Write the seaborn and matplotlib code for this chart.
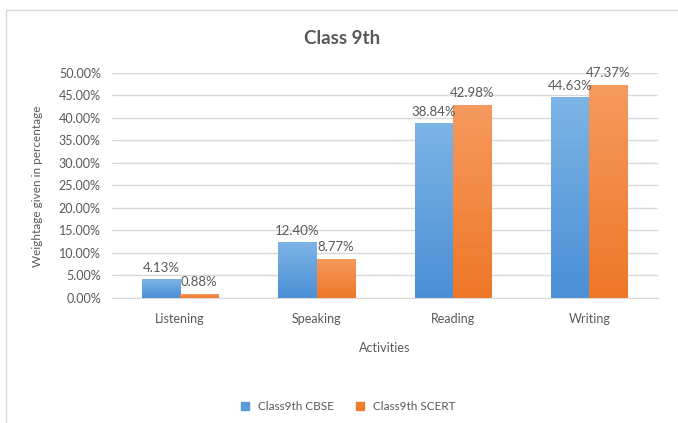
import matplotlib
matplotlib.use('Agg')
import matplotlib.pyplot as plt
from matplotlib.colors import LinearSegmentedColormap
from matplotlib.lines import Line2D
import numpy as np
import pandas as pd
import seaborn as sns

activities = ['Listening', 'Speaking', 'Reading', 'Writing']
series_names = ['Class9th CBSE', 'Class9th SCERT']
cbse_values = [4.13, 12.40, 38.84, 44.63]
scert_values = [0.88, 8.77, 42.98, 47.37]
y_ticks = [0, 5, 10, 15, 20, 25, 30, 35, 40, 45, 50]

base_colors = {'Class9th CBSE': '#5B9BD5', 'Class9th SCERT': '#ED7D31'}
grad_colors = {'Class9th CBSE': ('#4A8FD6', '#7DB4E6'),
               'Class9th SCERT': ('#EE7727', '#F69A5E')}
text_color = '#595959'

plot_df = pd.DataFrame({
    'activity': activities * 2,
    'series': [series_names[0]] * 4 + [series_names[1]] * 4,
    'value': cbse_values + scert_values,
})

sns.set_style('white')
plt.rcParams['font.family'] = ['Lato', 'DejaVu Sans']

fig = plt.figure(figsize=(6.78, 4.23), dpi=100)
ax = fig.add_axes([0.165, 0.2955, 0.805, 0.532])

sns.barplot(data=plot_df, x='activity', y='value', hue='series',
            order=activities, hue_order=series_names,
            palette=base_colors, width=0.56, gap=0, ax=ax,
            linewidth=0, errorbar=None)

ax.set_yticks(y_ticks)
ax.set_yticklabels([f'{t:.2f}%' for t in y_ticks])
ax.yaxis.grid(True, color='#D9D9D9', linewidth=1)
ax.set_axisbelow(True)
for side in ['top', 'right', 'left']:
    ax.spines[side].set_visible(False)
ax.spines['bottom'].set_color('#D9D9D9')
ax.tick_params(axis='both', length=0, labelsize=9, colors=text_color)
ax.tick_params(axis='y', pad=8)
ax.tick_params(axis='x', pad=11, labelsize=9)
ax.set_xlabel('')
ax.set_ylabel('')

# gradient fill clipped to each bar, plus value labels
for cont, name in zip(ax.containers, series_names):
    cmap = LinearSegmentedColormap.from_list(name, grad_colors[name])
    for patch in cont.patches:
        x0, y0 = patch.get_x(), patch.get_y()
        w, h = patch.get_width(), patch.get_height()
        grad = np.linspace(0, 1, 64).reshape(-1, 1)
        im = ax.imshow(grad, cmap=cmap, origin='lower', aspect='auto',
                       extent=(x0, x0 + w, y0, y0 + h), zorder=patch.get_zorder())
        im.set_clip_path(patch)
    ax.bar_label(cont, labels=[f'{v:.2f}%' for v in cont.datavalues],
                 padding=4, fontsize=9.5, color=text_color)
ax.set_xlim(-0.5, 3.5)
ax.set_ylim(0, 50)

ax.legend_.remove()
handles = [Line2D([], [], marker='s', linestyle='none', markersize=6,
                  color=base_colors[n]) for n in series_names]
fig.legend(handles, series_names, loc='center', bbox_to_anchor=(0.508, 0.038),
           ncol=2, frameon=False, fontsize=8.5, labelcolor=text_color,
           handletextpad=0.1, columnspacing=1.2)

fig.text(0.505, 0.91, 'Class 9th', ha='center', va='center',
         fontsize=13.5, fontweight='bold', color=text_color)
fig.text(0.568, 0.177, 'Activities', ha='center', va='center',
         fontsize=9, color=text_color)
fig.text(0.055, 0.56, 'Weightage given in percentage', ha='center', va='center',
         rotation=90, fontsize=8.5, color=text_color)

# partial frame as in the cropped screenshot
fig.add_artist(Line2D([0.009, 0.009], [0.0, 0.976], color='#D9D9D9', lw=1))
fig.add_artist(Line2D([0.009, 1.0], [0.976, 0.976], color='#D9D9D9', lw=1))

fig.savefig('out.png', dpi=100)
